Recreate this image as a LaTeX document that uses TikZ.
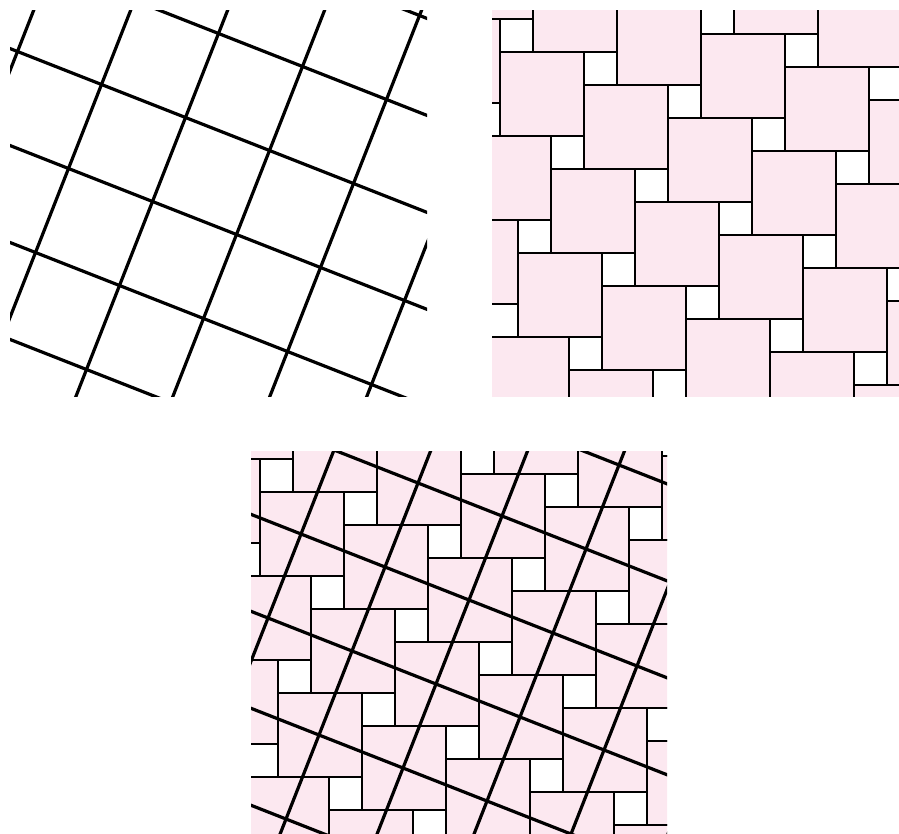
\documentclass[tikz,border=0pt]{standalone}
\definecolor{tilepink}{RGB}{252,232,240}
\newcommand\tA{84}
\newcommand\tB{33}
\tikzset{
  bigtile/.style={fill=tilepink,draw=black,line width=2.8pt},
  smalltile/.style={fill=white,draw=black,line width=2.8pt},
  gridline/.style={draw=black,line width=3.2pt}
}
\newcommand\pythtiling[2]{%
  \foreach \i in {-4,...,8}{\foreach \j in {-5,...,6}{%
    \pgfmathsetmacro\px{#1+\i*\tA-\j*\tB}%
    \pgfmathsetmacro\py{#2+\i*\tB+\j*\tA}%
    \draw[bigtile] (\px,\py) rectangle ++(\tA,\tA);
    \draw[smalltile] (\px+\tA,\py) rectangle ++(\tB,\tB);
  }}}
\newcommand\squaregrid[2]{%
  \foreach \k in {-5,...,7}{%
    \draw[gridline] ({#1-\k*\tB-8*\tA},{#2+\k*\tA-8*\tB}) -- ({#1-\k*\tB+8*\tA},{#2+\k*\tA+8*\tB});
    \draw[gridline] ({#1+\k*\tA+8*\tB},{#2+\k*\tB-8*\tA}) -- ({#1+\k*\tA-8*\tB},{#2+\k*\tB+8*\tA});
  }}
\begin{document}
\begin{tikzpicture}[x=1pt,y=-1pt]
\useasboundingbox (0,0) rectangle (899,834);
% top-left: square grid
\begin{scope}
  \clip (10,11) rectangle (427,396);
  \squaregrid{101.5}{84.5}
\end{scope}
% top-right: Pythagorean tiling
\begin{scope}
  \clip (492,11) rectangle (908,396);
  \pythtiling{500}{52}
\end{scope}
% bottom: tiling with grid overlay
\begin{scope}
  \clip (251,451) rectangle (667,836);
  \pythtiling{260}{492}
  \squaregrid{301}{534}
\end{scope}
\end{tikzpicture}
\end{document}
